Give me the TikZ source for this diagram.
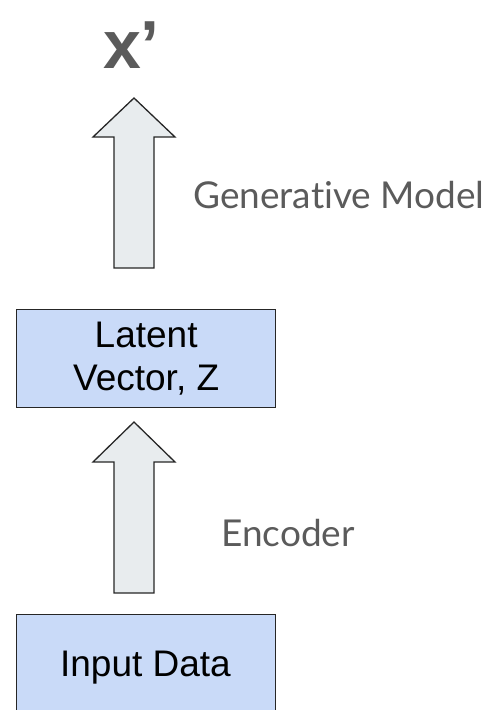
\documentclass[tikz,border=0pt]{standalone}
\usepackage{fontspec}
\setmainfont{Liberation Sans}
\newfontfamily\latofont[Ligatures={NoCommon}]{Lato}
\definecolor{boxblue}{HTML}{C9DAF8}
\definecolor{arrowgray}{HTML}{E8ECEE}
\definecolor{labelgray}{HTML}{5B5B5B}
\definecolor{edgegray}{HTML}{262626}
\begin{document}
\begin{tikzpicture}[x=1pt,y=-1pt,
  boxsty/.style={draw=edgegray, line width=1.3pt, fill=boxblue, inner sep=0pt, align=center,
    font=\fontsize{37}{43}\selectfont},
  arrowsty/.style={draw=edgegray, line width=1.3pt, fill=arrowgray, line join=miter},
  labelsty/.style={text=labelgray, inner sep=0pt, anchor=base west, font=\latofont\fontsize{37}{42}\selectfont}]
\useasboundingbox (0,0) rectangle (491,710);
% boxes
\node[boxsty, minimum width=259, minimum height=98, anchor=north west] (latent) at (16,309) {Latent\\Vector, Z};
\node[boxsty, minimum width=259, minimum height=100, anchor=north west] (input) at (16,614) {};
\node[inner sep=0pt, anchor=base, font=\fontsize{37}{42}\selectfont] (inputtxt) at (145.5,676) {Input Data};
% output label
\node[inner sep=0pt, anchor=base, text=labelgray, font=\bfseries\fontsize{68}{70}\selectfont] (xp) at (131.5,68) {x’};
% top arrow
\coordinate (t1) at (134,98);
\draw[arrowsty] (t1) -- (175,137) -- (154,137) -- (154,268) -- (114,268) -- (114,137) -- (93,137) -- cycle;
% bottom arrow
\coordinate (t2) at (134,422);
\draw[arrowsty] (t2) -- (175,462) -- (154,462) -- (154,593) -- (114,593) -- (114,462) -- (93,462) -- cycle;
% labels
\node[labelsty] (gen) at (193,208) {Generative Model};
\node[labelsty] (enc) at (221,546) {Encoder};
\end{tikzpicture}
\end{document}
